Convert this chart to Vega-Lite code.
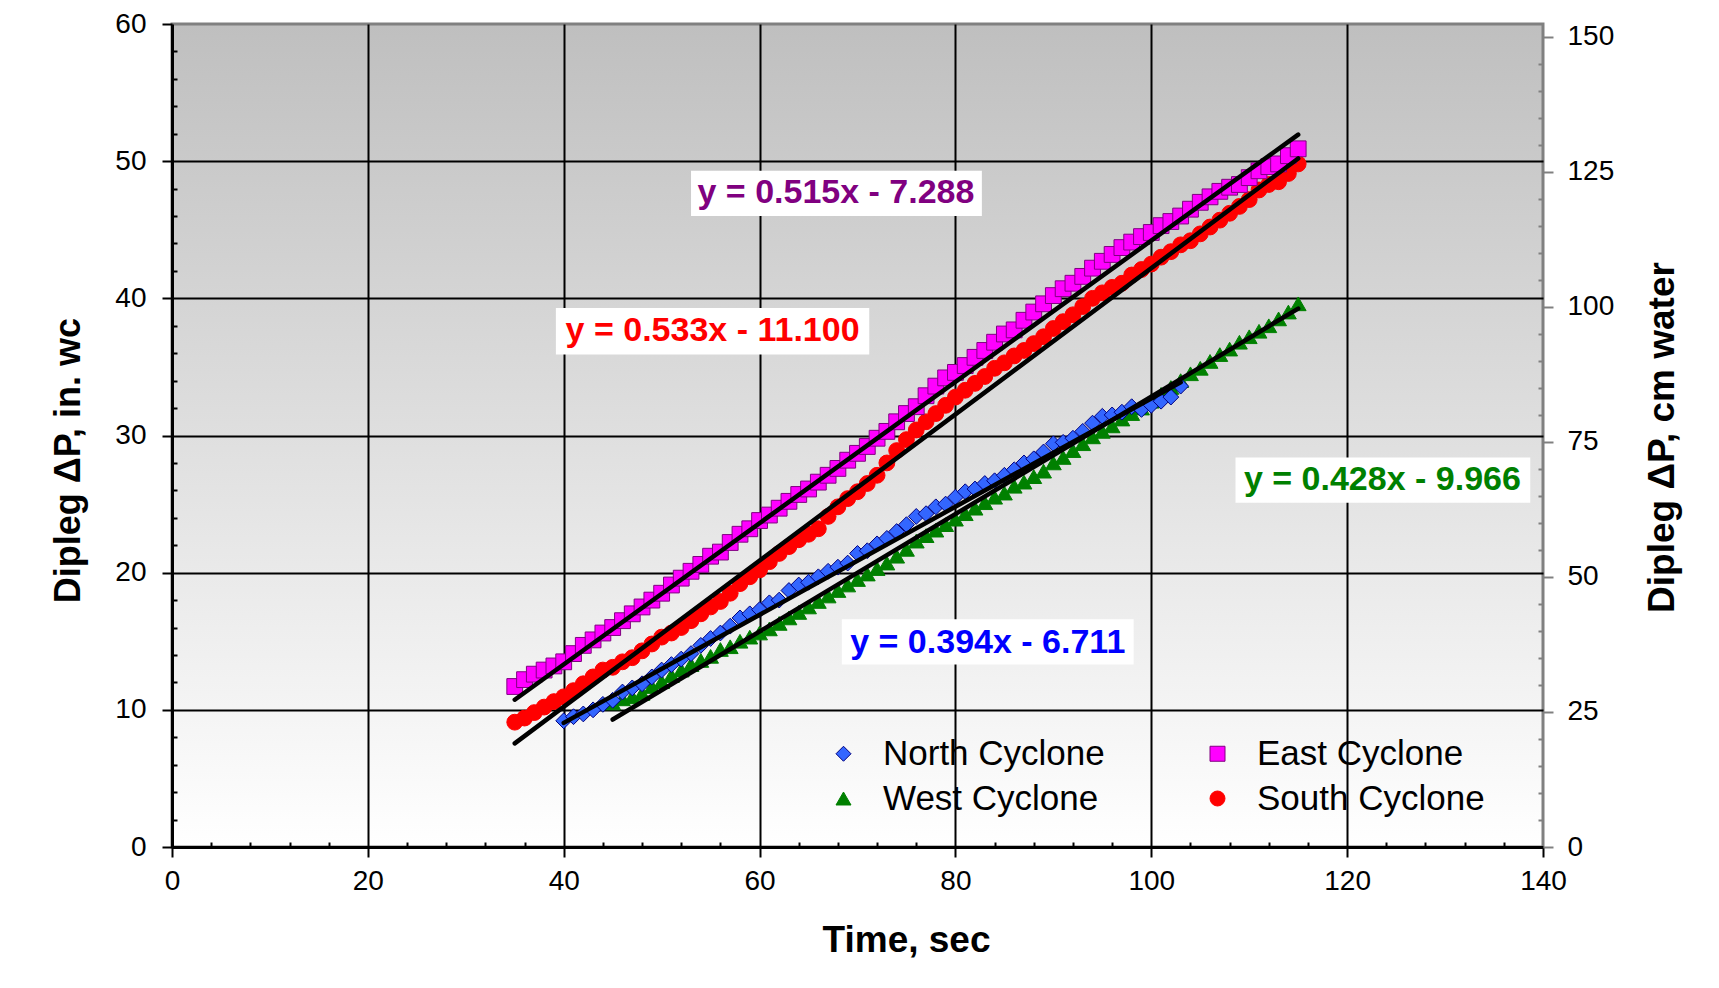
{
"$schema": "https://vega.github.io/schema/vega-lite/v6.json",
"width": 1371, "height": 823,
"autosize": {"type": "none"},
"padding": {"left": 172, "top": 24, "right": 176, "bottom": 141},
"background": "white",
"config": {
  "view": {"stroke": "#808080", "strokeWidth": 3, "fill": {"gradient": "linear", "x1": 0, "y1": 0, "x2": 0, "y2": 1, "stops": [{"offset": 0, "color": "#BFBFBF"}, {"offset": 1, "color": "#FFFFFF"}]}},
  "font": "Liberation Sans",
  "axis": {"labelFont": "Liberation Sans", "titleFont": "Liberation Sans", "labelColor": "black", "titleColor": "black"}
},
"datasets": {
  "pts": [
    {"series":"West Cyclone","t":45,"dp":10.5},{"series":"West Cyclone","t":46,"dp":10.8},{"series":"West Cyclone","t":47,"dp":10.95},{"series":"West Cyclone","t":48,"dp":11.2},{"series":"West Cyclone","t":49,"dp":11.7},{"series":"West Cyclone","t":50,"dp":12.05},{"series":"West Cyclone","t":51,"dp":12.5},{"series":"West Cyclone","t":52,"dp":12.9},{"series":"West Cyclone","t":53,"dp":13.3},{"series":"West Cyclone","t":54,"dp":13.6},{"series":"West Cyclone","t":55,"dp":13.9},{"series":"West Cyclone","t":56,"dp":14.4},{"series":"West Cyclone","t":57,"dp":14.6},{"series":"West Cyclone","t":58,"dp":15.0},{"series":"West Cyclone","t":59,"dp":15.3},{"series":"West Cyclone","t":60,"dp":15.6},{"series":"West Cyclone","t":61,"dp":15.9},{"series":"West Cyclone","t":62,"dp":16.3},{"series":"West Cyclone","t":63,"dp":16.7},{"series":"West Cyclone","t":64,"dp":17.1},{"series":"West Cyclone","t":65,"dp":17.5},{"series":"West Cyclone","t":66,"dp":17.9},{"series":"West Cyclone","t":67,"dp":18.3},{"series":"West Cyclone","t":68,"dp":18.7},{"series":"West Cyclone","t":69,"dp":19.1},{"series":"West Cyclone","t":70,"dp":19.5},{"series":"West Cyclone","t":71,"dp":19.9},{"series":"West Cyclone","t":72,"dp":20.3},{"series":"West Cyclone","t":73,"dp":20.7},{"series":"West Cyclone","t":74,"dp":21.2},{"series":"West Cyclone","t":75,"dp":21.7},{"series":"West Cyclone","t":76,"dp":22.3},{"series":"West Cyclone","t":77,"dp":22.7},{"series":"West Cyclone","t":78,"dp":23.1},{"series":"West Cyclone","t":79,"dp":23.5},{"series":"West Cyclone","t":80,"dp":23.9},{"series":"West Cyclone","t":81,"dp":24.3},{"series":"West Cyclone","t":82,"dp":24.7},{"series":"West Cyclone","t":83,"dp":25.1},{"series":"West Cyclone","t":84,"dp":25.5},{"series":"West Cyclone","t":85,"dp":25.8},{"series":"West Cyclone","t":86,"dp":26.3},{"series":"West Cyclone","t":87,"dp":26.6},{"series":"West Cyclone","t":88,"dp":27.0},{"series":"West Cyclone","t":89,"dp":27.4},{"series":"West Cyclone","t":90,"dp":28.0},{"series":"West Cyclone","t":91,"dp":28.4},{"series":"West Cyclone","t":92,"dp":28.9},{"series":"West Cyclone","t":93,"dp":29.4},{"series":"West Cyclone","t":94,"dp":29.9},{"series":"West Cyclone","t":95,"dp":30.3},{"series":"West Cyclone","t":96,"dp":30.7},{"series":"West Cyclone","t":97,"dp":31.2},{"series":"West Cyclone","t":98,"dp":31.6},{"series":"West Cyclone","t":99,"dp":32.0},{"series":"West Cyclone","t":100,"dp":32.5},{"series":"West Cyclone","t":101,"dp":33.0},{"series":"West Cyclone","t":102,"dp":33.5},{"series":"West Cyclone","t":103,"dp":34.0},{"series":"West Cyclone","t":104,"dp":34.5},{"series":"West Cyclone","t":105,"dp":34.9},{"series":"West Cyclone","t":106,"dp":35.4},{"series":"West Cyclone","t":107,"dp":35.9},{"series":"West Cyclone","t":108,"dp":36.3},{"series":"West Cyclone","t":109,"dp":36.8},{"series":"West Cyclone","t":110,"dp":37.2},{"series":"West Cyclone","t":111,"dp":37.6},{"series":"West Cyclone","t":112,"dp":38.0},{"series":"West Cyclone","t":113,"dp":38.5},{"series":"West Cyclone","t":114,"dp":39.0},{"series":"West Cyclone","t":115,"dp":39.6},
    {"series":"North Cyclone","t":40,"dp":9.2},{"series":"North Cyclone","t":41,"dp":9.5},{"series":"North Cyclone","t":42,"dp":9.7},{"series":"North Cyclone","t":43,"dp":10.0},{"series":"North Cyclone","t":44,"dp":10.4},{"series":"North Cyclone","t":45,"dp":10.7},{"series":"North Cyclone","t":46,"dp":11.3},{"series":"North Cyclone","t":47,"dp":11.6},{"series":"North Cyclone","t":48,"dp":11.9},{"series":"North Cyclone","t":49,"dp":12.4},{"series":"North Cyclone","t":50,"dp":12.9},{"series":"North Cyclone","t":51,"dp":13.3},{"series":"North Cyclone","t":52,"dp":13.7},{"series":"North Cyclone","t":53,"dp":14.1},{"series":"North Cyclone","t":54,"dp":14.7},{"series":"North Cyclone","t":55,"dp":15.2},{"series":"North Cyclone","t":56,"dp":15.6},{"series":"North Cyclone","t":57,"dp":16.1},{"series":"North Cyclone","t":58,"dp":16.7},{"series":"North Cyclone","t":59,"dp":17.0},{"series":"North Cyclone","t":60,"dp":17.3},{"series":"North Cyclone","t":61,"dp":17.8},{"series":"North Cyclone","t":62,"dp":18.0},{"series":"North Cyclone","t":63,"dp":18.7},{"series":"North Cyclone","t":64,"dp":19.1},{"series":"North Cyclone","t":65,"dp":19.3},{"series":"North Cyclone","t":66,"dp":19.7},{"series":"North Cyclone","t":67,"dp":20.1},{"series":"North Cyclone","t":68,"dp":20.4},{"series":"North Cyclone","t":69,"dp":20.7},{"series":"North Cyclone","t":70,"dp":21.4},{"series":"North Cyclone","t":71,"dp":21.6},{"series":"North Cyclone","t":72,"dp":22.1},{"series":"North Cyclone","t":73,"dp":22.5},{"series":"North Cyclone","t":74,"dp":23.0},{"series":"North Cyclone","t":75,"dp":23.5},{"series":"North Cyclone","t":76,"dp":24.1},{"series":"North Cyclone","t":77,"dp":24.3},{"series":"North Cyclone","t":78,"dp":24.8},{"series":"North Cyclone","t":79,"dp":25.0},{"series":"North Cyclone","t":80,"dp":25.5},{"series":"North Cyclone","t":81,"dp":25.9},{"series":"North Cyclone","t":82,"dp":26.1},{"series":"North Cyclone","t":83,"dp":26.5},{"series":"North Cyclone","t":84,"dp":26.7},{"series":"North Cyclone","t":85,"dp":27.1},{"series":"North Cyclone","t":86,"dp":27.5},{"series":"North Cyclone","t":87,"dp":28.0},{"series":"North Cyclone","t":88,"dp":28.3},{"series":"North Cyclone","t":89,"dp":28.8},{"series":"North Cyclone","t":90,"dp":29.4},{"series":"North Cyclone","t":91,"dp":29.5},{"series":"North Cyclone","t":92,"dp":29.8},{"series":"North Cyclone","t":93,"dp":30.3},{"series":"North Cyclone","t":94,"dp":30.9},{"series":"North Cyclone","t":95,"dp":31.4},{"series":"North Cyclone","t":96,"dp":31.5},{"series":"North Cyclone","t":97,"dp":31.7},{"series":"North Cyclone","t":98,"dp":32.1},{"series":"North Cyclone","t":99,"dp":31.9},{"series":"North Cyclone","t":100,"dp":32.2},{"series":"North Cyclone","t":101,"dp":32.5},{"series":"North Cyclone","t":102,"dp":32.8},{"series":"North Cyclone","t":103,"dp":33.6},
    {"series":"South Cyclone","t":35,"dp":9.1},{"series":"South Cyclone","t":36,"dp":9.4},{"series":"South Cyclone","t":37,"dp":9.8},{"series":"South Cyclone","t":38,"dp":10.2},{"series":"South Cyclone","t":39,"dp":10.6},{"series":"South Cyclone","t":40,"dp":10.95},{"series":"South Cyclone","t":41,"dp":11.4},{"series":"South Cyclone","t":42,"dp":11.9},{"series":"South Cyclone","t":43,"dp":12.4},{"series":"South Cyclone","t":44,"dp":12.9},{"series":"South Cyclone","t":45,"dp":13.1},{"series":"South Cyclone","t":46,"dp":13.5},{"series":"South Cyclone","t":47,"dp":13.8},{"series":"South Cyclone","t":48,"dp":14.3},{"series":"South Cyclone","t":49,"dp":14.8},{"series":"South Cyclone","t":50,"dp":15.3},{"series":"South Cyclone","t":51,"dp":15.6},{"series":"South Cyclone","t":52,"dp":16.0},{"series":"South Cyclone","t":53,"dp":16.5},{"series":"South Cyclone","t":54,"dp":17.0},{"series":"South Cyclone","t":55,"dp":17.5},{"series":"South Cyclone","t":56,"dp":17.9},{"series":"South Cyclone","t":57,"dp":18.5},{"series":"South Cyclone","t":58,"dp":19.2},{"series":"South Cyclone","t":59,"dp":19.7},{"series":"South Cyclone","t":60,"dp":20.2},{"series":"South Cyclone","t":61,"dp":20.8},{"series":"South Cyclone","t":62,"dp":21.4},{"series":"South Cyclone","t":63,"dp":21.9},{"series":"South Cyclone","t":64,"dp":22.4},{"series":"South Cyclone","t":65,"dp":22.8},{"series":"South Cyclone","t":66,"dp":23.2},{"series":"South Cyclone","t":67,"dp":24.1},{"series":"South Cyclone","t":68,"dp":24.8},{"series":"South Cyclone","t":69,"dp":25.4},{"series":"South Cyclone","t":70,"dp":25.9},{"series":"South Cyclone","t":71,"dp":26.5},{"series":"South Cyclone","t":72,"dp":27.1},{"series":"South Cyclone","t":73,"dp":28.0},{"series":"South Cyclone","t":74,"dp":28.9},{"series":"South Cyclone","t":75,"dp":29.7},{"series":"South Cyclone","t":76,"dp":30.4},{"series":"South Cyclone","t":77,"dp":31.0},{"series":"South Cyclone","t":78,"dp":31.6},{"series":"South Cyclone","t":79,"dp":32.2},{"series":"South Cyclone","t":80,"dp":32.8},{"series":"South Cyclone","t":81,"dp":33.3},{"series":"South Cyclone","t":82,"dp":33.8},{"series":"South Cyclone","t":83,"dp":34.3},{"series":"South Cyclone","t":84,"dp":34.9},{"series":"South Cyclone","t":85,"dp":35.3},{"series":"South Cyclone","t":86,"dp":35.8},{"series":"South Cyclone","t":87,"dp":36.2},{"series":"South Cyclone","t":88,"dp":36.7},{"series":"South Cyclone","t":89,"dp":37.2},{"series":"South Cyclone","t":90,"dp":37.8},{"series":"South Cyclone","t":91,"dp":38.3},{"series":"South Cyclone","t":92,"dp":38.8},{"series":"South Cyclone","t":93,"dp":39.4},{"series":"South Cyclone","t":94,"dp":40.0},{"series":"South Cyclone","t":95,"dp":40.4},{"series":"South Cyclone","t":96,"dp":40.8},{"series":"South Cyclone","t":97,"dp":41.1},{"series":"South Cyclone","t":98,"dp":41.7},{"series":"South Cyclone","t":99,"dp":42.1},{"series":"South Cyclone","t":100,"dp":42.5},{"series":"South Cyclone","t":101,"dp":43.0},{"series":"South Cyclone","t":102,"dp":43.4},{"series":"South Cyclone","t":103,"dp":43.9},{"series":"South Cyclone","t":104,"dp":44.2},{"series":"South Cyclone","t":105,"dp":44.7},{"series":"South Cyclone","t":106,"dp":45.2},{"series":"South Cyclone","t":107,"dp":45.7},{"series":"South Cyclone","t":108,"dp":46.2},{"series":"South Cyclone","t":109,"dp":46.7},{"series":"South Cyclone","t":110,"dp":47.2},{"series":"South Cyclone","t":111,"dp":47.9},{"series":"South Cyclone","t":112,"dp":48.3},{"series":"South Cyclone","t":113,"dp":48.5},{"series":"South Cyclone","t":114,"dp":49.1},{"series":"South Cyclone","t":115,"dp":49.8},
    {"series":"East Cyclone","t":35,"dp":11.7},{"series":"East Cyclone","t":36,"dp":12.2},{"series":"East Cyclone","t":37,"dp":12.6},{"series":"East Cyclone","t":38,"dp":12.9},{"series":"East Cyclone","t":39,"dp":13.2},{"series":"East Cyclone","t":40,"dp":13.5},{"series":"East Cyclone","t":41,"dp":14.1},{"series":"East Cyclone","t":42,"dp":14.7},{"series":"East Cyclone","t":43,"dp":15.1},{"series":"East Cyclone","t":44,"dp":15.6},{"series":"East Cyclone","t":45,"dp":16.0},{"series":"East Cyclone","t":46,"dp":16.5},{"series":"East Cyclone","t":47,"dp":17.0},{"series":"East Cyclone","t":48,"dp":17.5},{"series":"East Cyclone","t":49,"dp":18.0},{"series":"East Cyclone","t":50,"dp":18.5},{"series":"East Cyclone","t":51,"dp":19.1},{"series":"East Cyclone","t":52,"dp":19.6},{"series":"East Cyclone","t":53,"dp":20.1},{"series":"East Cyclone","t":54,"dp":20.6},{"series":"East Cyclone","t":55,"dp":21.2},{"series":"East Cyclone","t":56,"dp":21.5},{"series":"East Cyclone","t":57,"dp":22.2},{"series":"East Cyclone","t":58,"dp":22.8},{"series":"East Cyclone","t":59,"dp":23.2},{"series":"East Cyclone","t":60,"dp":23.8},{"series":"East Cyclone","t":61,"dp":24.2},{"series":"East Cyclone","t":62,"dp":24.7},{"series":"East Cyclone","t":63,"dp":25.2},{"series":"East Cyclone","t":64,"dp":25.7},{"series":"East Cyclone","t":65,"dp":26.1},{"series":"East Cyclone","t":66,"dp":26.6},{"series":"East Cyclone","t":67,"dp":27.1},{"series":"East Cyclone","t":68,"dp":27.6},{"series":"East Cyclone","t":69,"dp":28.2},{"series":"East Cyclone","t":70,"dp":28.7},{"series":"East Cyclone","t":71,"dp":29.2},{"series":"East Cyclone","t":72,"dp":29.8},{"series":"East Cyclone","t":73,"dp":30.3},{"series":"East Cyclone","t":74,"dp":31.0},{"series":"East Cyclone","t":75,"dp":31.6},{"series":"East Cyclone","t":76,"dp":32.1},{"series":"East Cyclone","t":77,"dp":32.9},{"series":"East Cyclone","t":78,"dp":33.6},{"series":"East Cyclone","t":79,"dp":34.2},{"series":"East Cyclone","t":80,"dp":34.6},{"series":"East Cyclone","t":81,"dp":35.1},{"series":"East Cyclone","t":82,"dp":35.7},{"series":"East Cyclone","t":83,"dp":36.2},{"series":"East Cyclone","t":84,"dp":36.8},{"series":"East Cyclone","t":85,"dp":37.4},{"series":"East Cyclone","t":86,"dp":37.7},{"series":"East Cyclone","t":87,"dp":38.4},{"series":"East Cyclone","t":88,"dp":39.0},{"series":"East Cyclone","t":89,"dp":39.6},{"series":"East Cyclone","t":90,"dp":40.2},{"series":"East Cyclone","t":91,"dp":40.7},{"series":"East Cyclone","t":92,"dp":41.1},{"series":"East Cyclone","t":93,"dp":41.6},{"series":"East Cyclone","t":94,"dp":42.2},{"series":"East Cyclone","t":95,"dp":42.7},{"series":"East Cyclone","t":96,"dp":43.2},{"series":"East Cyclone","t":97,"dp":43.7},{"series":"East Cyclone","t":98,"dp":44.1},{"series":"East Cyclone","t":99,"dp":44.5},{"series":"East Cyclone","t":100,"dp":44.8},{"series":"East Cyclone","t":101,"dp":45.3},{"series":"East Cyclone","t":102,"dp":45.6},{"series":"East Cyclone","t":103,"dp":46.0},{"series":"East Cyclone","t":104,"dp":46.5},{"series":"East Cyclone","t":105,"dp":47.0},{"series":"East Cyclone","t":106,"dp":47.4},{"series":"East Cyclone","t":107,"dp":47.8},{"series":"East Cyclone","t":108,"dp":48.1},{"series":"East Cyclone","t":109,"dp":48.3},{"series":"East Cyclone","t":110,"dp":48.8},{"series":"East Cyclone","t":111,"dp":49.3},{"series":"East Cyclone","t":112,"dp":49.6},{"series":"East Cyclone","t":113,"dp":49.8},{"series":"East Cyclone","t":114,"dp":50.4},{"series":"East Cyclone","t":115,"dp":50.9}
  ],
  "fit": [
    {"series":"East Cyclone","t":35,"dp":10.737},{"series":"East Cyclone","t":115,"dp":51.937},
    {"series":"South Cyclone","t":35,"dp":7.555},{"series":"South Cyclone","t":115,"dp":50.195},
    {"series":"North Cyclone","t":40,"dp":9.049},{"series":"North Cyclone","t":103,"dp":33.871},
    {"series":"West Cyclone","t":45,"dp":9.294},{"series":"West Cyclone","t":115,"dp":39.254}
  ],
  "eq": [
    {"series":"East Cyclone","label":"y = 0.515x - 7.288","t":67.8,"dp":47.7,"t1":53.0,"t2":82.7,"d1":49.3,"d2":46.0},
    {"series":"South Cyclone","label":"y = 0.533x - 11.100","t":55.2,"dp":37.6,"t1":39.2,"t2":71.2,"d1":39.3,"d2":35.9},
    {"series":"West Cyclone","label":"y = 0.428x - 9.966","t":123.6,"dp":26.75,"t1":108.6,"t2":138.7,"d1":28.4,"d2":25.1},
    {"series":"North Cyclone","label":"y = 0.394x - 6.711","t":83.3,"dp":14.9,"t1":68.4,"t2":98.2,"d1":16.6,"d2":13.3}
  ]
},
"layer": [
  {
    "layer": [
      {
        "mark": {"type": "point", "opacity": 0},
        "encoding": {
          "x": {"datum": 0, "type": "quantitative", "scale": {"domain": [0, 140], "nice": false, "zero": false},
                "axis": {"orient": "bottom", "values": [20, 40, 60, 80, 100, 120], "grid": true, "gridColor": "black", "gridWidth": 2, "gridOpacity": 1, "ticks": false, "labels": false, "domain": false, "title": null}},
          "y": {"datum": 0, "type": "quantitative", "scale": {"domain": [0, 60], "nice": false, "zero": false},
                "axis": {"orient": "left", "values": [10, 20, 30, 40, 50], "grid": true, "gridColor": "black", "gridWidth": 2, "gridOpacity": 1, "ticks": false, "labels": false, "domain": false, "title": null}}
        }
      },
      {
        "mark": {"type": "rect", "color": "white"},
        "encoding": {
          "x": {"datum": 60.9, "type": "quantitative", "axis": null},
          "x2": {"datum": 137.7},
          "y": {"datum": 8.6, "type": "quantitative", "axis": null},
          "y2": {"datum": 2.19}
        }
      },
      {
        "data": {"name": "eq"},
        "mark": {"type": "rect", "color": "white"},
        "encoding": {
          "x": {"field": "t1", "type": "quantitative", "axis": null},
          "x2": {"field": "t2"},
          "y": {"field": "d1", "type": "quantitative", "axis": null},
          "y2": {"field": "d2"}
        }
      },
      {
        "data": {"name": "pts"},
        "mark": {"type": "point", "filled": true, "size": 250, "strokeWidth": 1, "opacity": 1},
        "encoding": {
          "x": {"field": "t", "type": "quantitative",
                "axis": {"orient": "bottom", "values": [0, 20, 40, 60, 80, 100, 120, 140], "grid": false, "domainColor": "black", "domainWidth": 3, "tickColor": "black", "tickWidth": 2, "tickSize": 10, "labelFontSize": 28, "labelPadding": 10, "labelFlush": false, "labelOverlap": false, "title": "Time, sec", "titleFontSize": 37, "titleFontWeight": "bold", "titleX": 734, "titleY": 93, "titleBaseline": "middle"}},
          "y": {"field": "dp", "type": "quantitative",
                "axis": {"orient": "left", "values": [0, 10, 20, 30, 40, 50, 60], "grid": false, "domainColor": "black", "domainWidth": 3, "tickColor": "black", "tickWidth": 2, "tickSize": 10, "labelFontSize": 28, "labelPadding": 16, "labelFlush": false, "labelOverlap": false, "title": "Dipleg  ΔP, in. wc", "titleFontSize": 36, "titleFontWeight": "bold", "titleAngle": 270, "titleX": -104, "titleY": 436, "titleBaseline": "middle"}},
          "color": {"field": "series", "type": "nominal",
                    "scale": {"domain": ["North Cyclone", "East Cyclone", "West Cyclone", "South Cyclone"], "range": ["#3366FF", "#FF00FF", "#008000", "#FF0000"]},
                    "legend": {"title": null, "orient": "none", "direction": "horizontal", "legendX": 654, "legendY": 712, "columns": 2, "padding": 0, "labelFontSize": 35, "labelFont": "Liberation Sans", "labelColor": "black", "symbolSize": 225, "labelOffset": 22, "columnPadding": 95, "rowPadding": 9, "symbolStrokeWidth": 1, "labelLimit": 400}},
          "shape": {"field": "series", "type": "nominal",
                    "scale": {"domain": ["North Cyclone", "East Cyclone", "West Cyclone", "South Cyclone"], "range": ["M0,-1L1,0L0,1L-1,0Z", "square", "triangle-up", "circle"]},
                    "legend": {"title": null, "orient": "none", "direction": "horizontal", "legendX": 654, "legendY": 712, "columns": 2, "padding": 0, "labelFontSize": 35, "labelFont": "Liberation Sans", "labelColor": "black", "symbolSize": 225, "labelOffset": 22, "columnPadding": 95, "rowPadding": 9, "symbolStrokeWidth": 1, "labelLimit": 400}},
          "stroke": {"field": "series", "type": "nominal",
                    "scale": {"domain": ["North Cyclone", "East Cyclone", "West Cyclone", "South Cyclone"], "range": ["#000080", "#800080", "#008000", "#FF0000"]},
                    "legend": {"title": null, "orient": "none", "direction": "horizontal", "legendX": 654, "legendY": 712, "columns": 2, "padding": 0, "labelFontSize": 35, "labelFont": "Liberation Sans", "labelColor": "black", "symbolSize": 225, "labelOffset": 22, "columnPadding": 95, "rowPadding": 9, "symbolStrokeWidth": 1, "labelLimit": 400}}
        }
      },
      {
        "data": {"name": "fit"},
        "mark": {"type": "line", "color": "black", "strokeWidth": 4.5, "strokeCap": "round"},
        "encoding": {
          "x": {"field": "t", "type": "quantitative", "axis": null},
          "y": {"field": "dp", "type": "quantitative", "axis": null},
          "detail": {"field": "series", "type": "nominal"}
        }
      },
      {
        "data": {"name": "eq"},
        "mark": {"type": "text", "font": "Liberation Sans", "fontSize": 34, "fontWeight": "bold", "align": "center", "baseline": "middle"},
        "encoding": {
          "x": {"field": "t", "type": "quantitative", "axis": null},
          "y": {"field": "dp", "type": "quantitative", "axis": null},
          "text": {"field": "label"},
          "fill": {"field": "series", "type": "nominal",
                   "scale": {"domain": ["North Cyclone", "East Cyclone", "West Cyclone", "South Cyclone"], "range": ["#0000FF", "#800080", "#008000", "#FF0000"]},
                   "legend": null}
        }
      },
      {
        "mark": {"type": "point", "opacity": 0},
        "encoding": {
          "x": {"datum": 0, "type": "quantitative",
                "axis": {"orient": "bottom", "values": [4, 8, 12, 16, 24, 28, 32, 36, 44, 48, 52, 56, 64, 68, 72, 76, 84, 88, 92, 96, 104, 108, 112, 116, 124, 128, 132, 136], "tickSize": -5, "tickColor": "black", "tickWidth": 2, "labels": false, "domain": false, "grid": false, "title": null}},
          "y": {"datum": 0, "type": "quantitative",
                "axis": {"orient": "left", "values": [2, 4, 6, 8, 12, 14, 16, 18, 22, 24, 26, 28, 32, 34, 36, 38, 42, 44, 46, 48, 52, 54, 56, 58], "tickSize": -5, "tickColor": "black", "tickWidth": 2, "labels": false, "domain": false, "grid": false, "title": null}}
        }
      }
    ],
    "resolve": {"axis": {"x": "independent", "y": "independent"}}
  },
  {
    "mark": {"type": "point", "opacity": 0},
    "encoding": {
      "x": {"datum": 0, "type": "quantitative", "axis": null},
      "y": {"datum": 0, "type": "quantitative", "scale": {"domain": [0, 152.4], "nice": false, "zero": false},
            "axis": {"orient": "right", "values": [0, 25, 50, 75, 100, 125, 150], "tickSize": 10, "tickColor": "#808080", "tickWidth": 2, "domain": false, "grid": false, "labelFontSize": 28, "labelPadding": 14, "labelColor": "black", "labelFlush": false, "labelOverlap": false, "title": "Dipleg  ΔP, cm water", "titleFontSize": 37, "titleFontWeight": "bold", "titleAngle": 270, "titleX": 119, "titleY": 413, "titleBaseline": "middle"}}
    }
  },
  {
    "mark": {"type": "point", "opacity": 0},
    "encoding": {
      "x": {"datum": 0, "type": "quantitative", "axis": null},
      "y": {"datum": 0, "type": "quantitative", "scale": {"domain": [0, 152.4], "nice": false, "zero": false},
            "axis": {"orient": "right", "values": [5, 10, 15, 20, 30, 35, 40, 45, 55, 60, 65, 70, 80, 85, 90, 95, 105, 110, 115, 120, 130, 135, 140, 145], "tickSize": -5, "tickColor": "#808080", "tickWidth": 2, "labels": false, "domain": false, "grid": false, "title": null}}
    }
  },
  {
    "mark": {"type": "rule", "color": "black", "strokeWidth": 2, "clip": false},
    "encoding": {
      "x": {"datum": -16.65, "type": "quantitative", "axis": null},
      "y": {"datum": -11, "type": "quantitative", "scale": {"domain": [0, 60], "nice": false, "zero": false}, "axis": null},
      "y2": {"datum": 62}
    }
  },
  {
    "mark": {"type": "rule", "color": "black", "strokeWidth": 2, "clip": false},
    "encoding": {
      "x": {"datum": 157.6, "type": "quantitative", "axis": null},
      "y": {"datum": -11, "type": "quantitative", "scale": {"domain": [0, 60], "nice": false, "zero": false}, "axis": null},
      "y2": {"datum": 62}
    }
  }
],
"resolve": {"scale": {"y": "independent"}, "axis": {"x": "independent", "y": "independent"}}
}
